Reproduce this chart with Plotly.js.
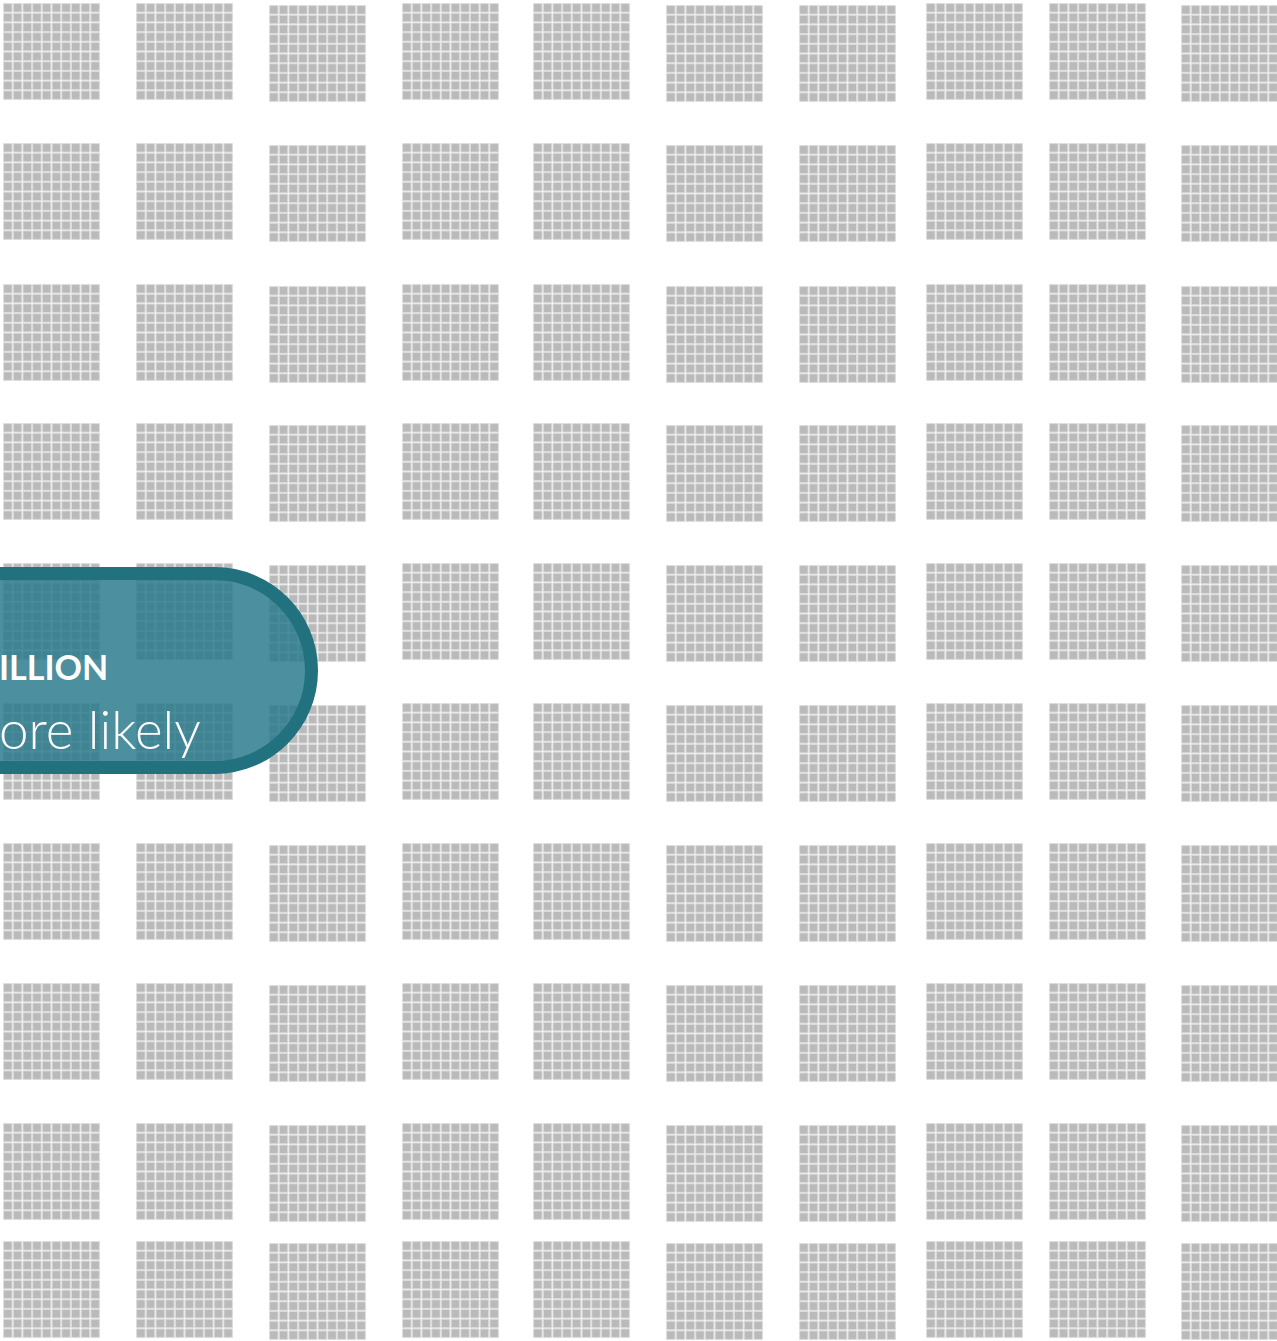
<!DOCTYPE html>
<html>
<head>
<meta charset="utf-8">
<script src="https://cdn.plot.ly/plotly-3.0.1.min.js"></script>
<style>
  html, body { margin: 0; padding: 0; background: #ffffff; overflow: hidden; }
  #chart { width: 1277px; height: 1341px; }
</style>
</head>
<body>
<div id="chart"></div>
<script>
// ---------- data ----------
// 10 x 10 blocks, each block holds 100 unit squares
const blockGridRows = 10;
const blockGridCols = 10;
const unitsPerBlock = [
  100,100,100,100,100,100,100,100,100,100,
  100,100,100,100,100,100,100,100,100,100,
  100,100,100,100,100,100,100,100,100,100,
  100,100,100,100,100,100,100,100,100,100,
  100,100,100,100,100,100,100,100,100,100,
  100,100,100,100,100,100,100,100,100,100,
  100,100,100,100,100,100,100,100,100,100,
  100,100,100,100,100,100,100,100,100,100,
  100,100,100,100,100,100,100,100,100,100,
  100,100,100,100,100,100,100,100,100,100
];
const calloutBold = "ILLION";
const calloutLight = "ore likely";

// ---------- layout constants (pixel geometry) ----------
const W = 1277, H = 1341;
const blockLeft = [3, 136, 269, 402, 533, 666, 799, 926, 1049, 1181];
const blockTop  = [3, 143, 284, 423, 563, 703, 843, 983, 1123, 1241];
const colShiftY = [0, 0, 2, 0, 0, 2, 2, 0, 0, 2];
const cellsPerSide = 10;
const cellPitch = 9.7;

const xs = [], ys = [];
for (let r = 0; r < blockGridRows; r++) {
  for (let c = 0; c < blockGridCols; c++) {
    const n = unitsPerBlock[r * blockGridCols + c];
    for (let k = 0; k < n; k++) {
      const cr = Math.floor(k / cellsPerSide);
      const cc = k % cellsPerSide;
      xs.push(blockLeft[c] + (cc + 0.5) * cellPitch);
      ys.push(blockTop[r] + colShiftY[c] + (cr + 0.5) * cellPitch);
    }
  }
}

const trace = {
  type: 'scatter',
  mode: 'markers',
  x: xs,
  y: ys,
  hoverinfo: 'skip',
  marker: {
    symbol: 'square',
    size: 8.5,
    color: '#bababa',
    line: { color: '#dcdcdc', width: 1 }
  }
};

// pill callout (semicircle approximated with cubic Beziers; Plotly paths have no arcs)
const pTop = 573.5, pBot = 767.5, rad = (pBot - pTop) / 2, cy = (pTop + pBot) / 2;
const cx = 318 - 6.5 - rad, kb = 0.5523 * rad;
const pillPath =
  `M -40,${pTop} L ${cx},${pTop} ` +
  `C ${cx + kb},${pTop} ${cx + rad},${cy - kb} ${cx + rad},${cy} ` +
  `C ${cx + rad},${cy + kb} ${cx + kb},${pBot} ${cx},${pBot} ` +
  `L -40,${pBot} Z`;

const layout = {
  width: W,
  height: H,
  margin: { l: 0, r: 0, t: 0, b: 0, pad: 0 },
  paper_bgcolor: '#ffffff',
  plot_bgcolor: '#ffffff',
  showlegend: false,
  xaxis: { range: [0, W], visible: false, fixedrange: true },
  yaxis: { range: [H, 0], visible: false, fixedrange: true },
  shapes: [{
    type: 'path',
    xref: 'x', yref: 'y',
    path: pillPath,
    fillcolor: 'rgba(36,118,137,0.82)',
    line: { color: '#21717f', width: 13 },
    layer: 'above'
  }],
  annotations: [
    {
      xref: 'paper', yref: 'y', x: -0.002, y: 666,
      xanchor: 'left', yanchor: 'middle',
      text: '<b>' + calloutBold + '</b>',
      showarrow: false,
      font: { family: 'Lato, "Open Sans", sans-serif', size: 34, color: '#ffffff' }
    },
    {
      xref: 'paper', yref: 'y', x: -0.002, y: 728,
      xanchor: 'left', yanchor: 'middle',
      text: calloutLight,
      showarrow: false,
      font: { family: 'Lato, "Open Sans", sans-serif', size: 53, color: '#ffffff', weight: 300 }
    }
  ]
};

Plotly.newPlot('chart', [trace], layout, { staticPlot: true, displayModeBar: false });
</script>
</body>
</html>
